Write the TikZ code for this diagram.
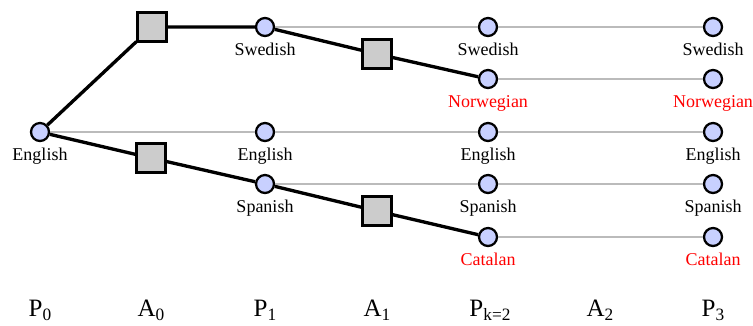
\documentclass[tikz,border=0pt]{standalone}
\usepackage{fontspec}
\setmainfont{Liberation Serif}
\usetikzlibrary{positioning}
\definecolor{langfill}{HTML}{C8D0FF}
\definecolor{actfill}{HTML}{CCCCCC}
\definecolor{keepgray}{HTML}{BBBBBB}
\definecolor{newred}{HTML}{FF0000}

% stage name with a lowered index
\newcommand{\stagename}[2]{#1\raisebox{-3.5pt}{\fontsize{13}{13}\selectfont #2}}

\begin{document}
\begin{tikzpicture}[x=0.75pt, y=-0.75pt,
    lang/.style={circle, draw=black, line width=1.7pt, fill=langfill, minimum size=13.5pt, inner sep=0pt},
    act/.style={rectangle, draw=black, line width=1.7pt, fill=actfill, minimum size=21.75pt, inner sep=0pt},
    branch/.style={black, line width=2.5pt},
    keep/.style={keepgray, line width=1.9pt},
    lbl/.style={font=\fontsize{13.5}{16}\selectfont, anchor=base},
    newlbl/.style={lbl, text=newred},
    stagelbl/.style={font=\fontsize{18.75}{22}\selectfont, anchor=base}]
        \useasboundingbox (0,0) rectangle (753,325);
        % languages at P0 and P1
        \node[lang] (en0) at (40,132) {};
        \node[lbl] (en0t) at (40,160) {English};
        \node[lang] (sv1) at (265,27) {};
        \node[lang] (en1) at (265,132) {};
        \node[lang] (es1) at (265,184) {};
        \node[lbl] (sv1t) at (265,55) {Swedish};
        \node[lbl] (en1t) at (265,160) {English};
        \node[lbl] (es1t) at (265,212) {Spanish};
        % languages at P2 and P3
        \foreach \c/\x in {2/488, 3/713} {
          \node[lang] (sv\c) at (\x,27) {};
          \node[lang] (no\c) at (\x,79) {};
          \node[lang] (en\c) at (\x,132) {};
          \node[lang] (es\c) at (\x,184) {};
          \node[lang] (ca\c) at (\x,237) {};
          \node[lbl] (sv\c t) at (\x,55) {Swedish};
          \node[newlbl] (no\c t) at (\x,107) {Norwegian};
          \node[lbl] (en\c t) at (\x,160) {English};
          \node[lbl] (es\c t) at (\x,212) {Spanish};
          \node[newlbl] (ca\c t) at (\x,265) {Catalan};
        }
        % actions
        \node[act] (a0up) at (152,27) {};
        \node[act] (a0dn) at (151,158) {};
        \node[act] (a1up) at (377,54) {};
        \node[act] (a1dn) at (377,211) {};
        % kept languages
        \draw[keep] (en0) -- (en1) -- (en2) -- (en3);
        \draw[keep] (sv1) -- (sv2) -- (sv3);
        \draw[keep] (es1) -- (es2) -- (es3);
        \draw[keep] (no2) -- (no3);
        \draw[keep] (ca2) -- (ca3);
        % translations
        \draw[branch] (en0) -- (a0up) -- (sv1);
        \draw[branch] (en0) -- (a0dn) -- (es1);
        \draw[branch] (sv1) -- (a1up) -- (no2);
        \draw[branch] (es1) -- (a1dn) -- (ca2);
        % stages
        \node[stagelbl] (p0) at (40,316) {\stagename{P}{0}};
        \node[stagelbl] (s0) at (151,316) {\stagename{A}{0}};
        \node[stagelbl] (p1) at (265,316) {\stagename{P}{1}};
        \node[stagelbl] (s1) at (377,316) {\stagename{A}{1}};
        \node[stagelbl] (p2) at (490,316) {\stagename{P}{k=2}};
        \node[stagelbl] (s2) at (600,316) {\stagename{A}{2}};
        \node[stagelbl] (p3) at (713,316) {\stagename{P}{3}};
\end{tikzpicture}
\end{document}
